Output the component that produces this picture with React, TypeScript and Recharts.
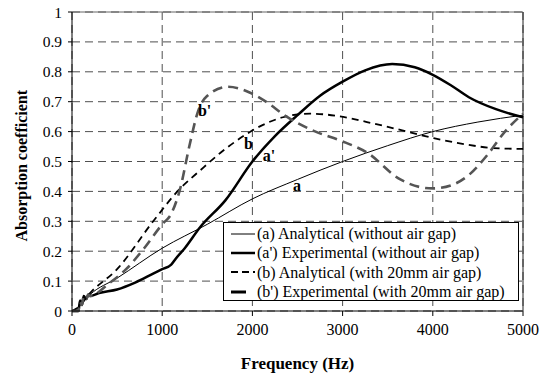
import React from 'react';
import { LineChart, Line, XAxis, YAxis, CartesianGrid, ReferenceLine, ReferenceDot } from 'recharts';

// (a) Analytical (without air gap)
const aFreq = [0, 60, 200, 500, 1000, 1500, 2000, 2500, 3000, 3500, 4000, 4500, 5000];
const aVals = [0, 0.01, 0.055, 0.11, 0.21, 0.29, 0.375, 0.44, 0.5, 0.553, 0.6, 0.632, 0.655];

// (a') Experimental (without air gap)
const apFreq = [0, 70, 90, 110, 130, 160, 180, 200, 300, 500, 700, 900, 1000, 1100, 1150, 1250, 1420, 1700, 2000, 2250, 2500, 2750, 3000, 3250, 3550, 3800, 4000, 4200, 4400, 4700, 5000];
const apVals = [0, 0, 0.035, 0.02, 0.05, 0.04, 0.055, 0.05, 0.06, 0.072, 0.095, 0.125, 0.14, 0.155, 0.175, 0.21, 0.28, 0.37, 0.5, 0.585, 0.655, 0.72, 0.767, 0.805, 0.826, 0.815, 0.79, 0.755, 0.715, 0.675, 0.648];

// (b) Analytical (with 20mm air gap)
const bFreq = [0, 60, 200, 500, 900, 1200, 1420, 1650, 1900, 2100, 2340, 2640, 2950, 3270, 3650, 4010, 4350, 4670, 5000];
const bVals = [0, 0.01, 0.06, 0.14, 0.3, 0.41, 0.47, 0.53, 0.585, 0.62, 0.648, 0.66, 0.652, 0.632, 0.605, 0.578, 0.558, 0.545, 0.542];

// (b') Experimental (with 20mm air gap)
const bpFreq = [0, 70, 90, 110, 130, 160, 180, 200, 400, 600, 800, 1000, 1100, 1200, 1300, 1400, 1500, 1730, 1975, 2150, 2380, 2700, 2975, 3270, 3640, 3850, 4000, 4200, 4400, 4600, 4800, 5000];
const bpVals = [0, 0, 0.03, 0.02, 0.05, 0.04, 0.055, 0.05, 0.09, 0.14, 0.21, 0.29, 0.325, 0.41, 0.55, 0.67, 0.72, 0.75, 0.73, 0.7, 0.65, 0.6, 0.57, 0.53, 0.44, 0.415, 0.41, 0.42, 0.455, 0.52, 0.6, 0.66];

const xTicks = [0, 1000, 2000, 3000, 4000, 5000];
const yTicks = [0, 0.1, 0.2, 0.3, 0.4, 0.5, 0.6, 0.7, 0.8, 0.9, 1];

const legendNames = [
  "(a) Analytical (without air gap)",
  "(a') Experimental (without air gap)",
  "(b) Analytical (with 20mm air gap)",
  "(b') Experimental (with 20mm air gap)",
];

const curveLabels = [
  { text: 'a', x: 2494, y: 0.421 },
  { text: "a'", x: 2185, y: 0.522 },
  { text: 'b', x: 1957, y: 0.561 },
  { text: "b'", x: 1470, y: 0.672 },
];

const zip = (xs: number[], ys: number[]) => xs.map((f, i) => ({ f, v: ys[i] }));

const FONT = '"Liberation Serif", "Times New Roman", serif';

const styles = [
  { stroke: '#000', strokeWidth: 1, dash: undefined as string | undefined },
  { stroke: '#000', strokeWidth: 2.5, dash: undefined as string | undefined },
  { stroke: '#000', strokeWidth: 1.8, dash: '7 5' },
  { stroke: '#555', strokeWidth: 2.6, dash: '10 6' },
];

const LegendBox = () => (
  <div
    style={{
      position: 'absolute',
      left: 223,
      top: 222,
      border: '1px solid #000',
      background: '#fff',
      width: 296,
      height: 79,
      boxSizing: 'border-box',
      fontFamily: FONT,
      fontSize: 16,
      paddingTop: 1,
    }}
  >
    {legendNames.map((n, i) => (
      <div key={i} style={{ display: 'flex', alignItems: 'center', height: 19.3, lineHeight: '19px' }}>
        <svg width={33} height={10} style={{ flex: 'none' }}>
          {i === 3 ? (
            <line x1={7} y1={5} x2={22} y2={5} stroke="#000" strokeWidth={3} />
          ) : (
            <line
              x1={7}
              y1={5}
              x2={31}
              y2={5}
              stroke="#000"
              strokeWidth={i === 0 ? 1 : i === 1 ? 2.5 : 1.8}
              strokeDasharray={i === 2 ? '7 4' : undefined}
            />
          )}
        </svg>
        <span style={{ whiteSpace: 'nowrap' }}>{n}</span>
      </div>
    ))}
  </div>
);

export default function App() {
  const series = [zip(aFreq, aVals), zip(apFreq, apVals), zip(bFreq, bVals), zip(bpFreq, bpVals)];
  return (
    <div style={{ position: 'absolute', left: 0, top: 0, width: 548, height: 377, background: '#fff', fontFamily: FONT }}>
      <LineChart width={548} height={377} margin={{ top: 12, right: 25, left: 0, bottom: 0 }} style={{ fontFamily: FONT }}>
        <CartesianGrid stroke="#222" strokeDasharray="8 5" strokeWidth={0.8} horizontalValues={yTicks} verticalValues={xTicks} />
        <ReferenceLine y={1} stroke="#666" strokeWidth={1} />
        <ReferenceLine x={5000} stroke="#222" strokeWidth={1} />
        <XAxis
          dataKey="f"
          type="number"
          domain={[0, 5000]}
          ticks={xTicks}
          interval={0}
          allowDuplicatedCategory={false}
          height={66}
          stroke="#000"
          tickSize={5}
          tickMargin={8}
          tick={{ fill: '#000', fontSize: 16, fontFamily: FONT }}
          label={{ value: 'Frequency (Hz)', position: 'insideBottom', offset: 8, style: { fontFamily: FONT, fontSize: 17, fontWeight: 'bold', fill: '#000' } }}
        />
        <YAxis
          type="number"
          domain={[0, 1]}
          ticks={yTicks}
          interval={0}
          width={72}
          stroke="#000"
          tickSize={4}
          tickMargin={6}
          tickFormatter={(v: number) => String(Math.round(v * 10) / 10)}
          tick={{ fill: '#000', fontSize: 15.5, fontFamily: FONT }}
          label={{ value: 'Absorption coefficient', angle: -90, position: 'insideLeft', offset: 21, dy: 80, style: { fontFamily: FONT, fontSize: 16, fontWeight: 'bold', fill: '#000' } }}
        />
        {series.map((d, i) => (
          <Line
            key={i}
            data={d}
            dataKey="v"
            type="monotone"
            stroke={styles[i].stroke}
            strokeWidth={styles[i].strokeWidth}
            strokeDasharray={styles[i].dash}
            dot={false}
            activeDot={false}
            isAnimationActive={false}
            name={legendNames[i]}
          />
        ))}
        {curveLabels.map((l, i) => (
          <ReferenceDot
            key={'l' + i}
            x={l.x}
            y={l.y}
            r={0}
            stroke="none"
            fill="none"
            label={{ value: l.text, position: 'center', style: { fontFamily: FONT, fontSize: 16, fontWeight: 'bold', fill: '#000' } }}
          />
        ))}
      </LineChart>
      <LegendBox />
    </div>
  );
}
